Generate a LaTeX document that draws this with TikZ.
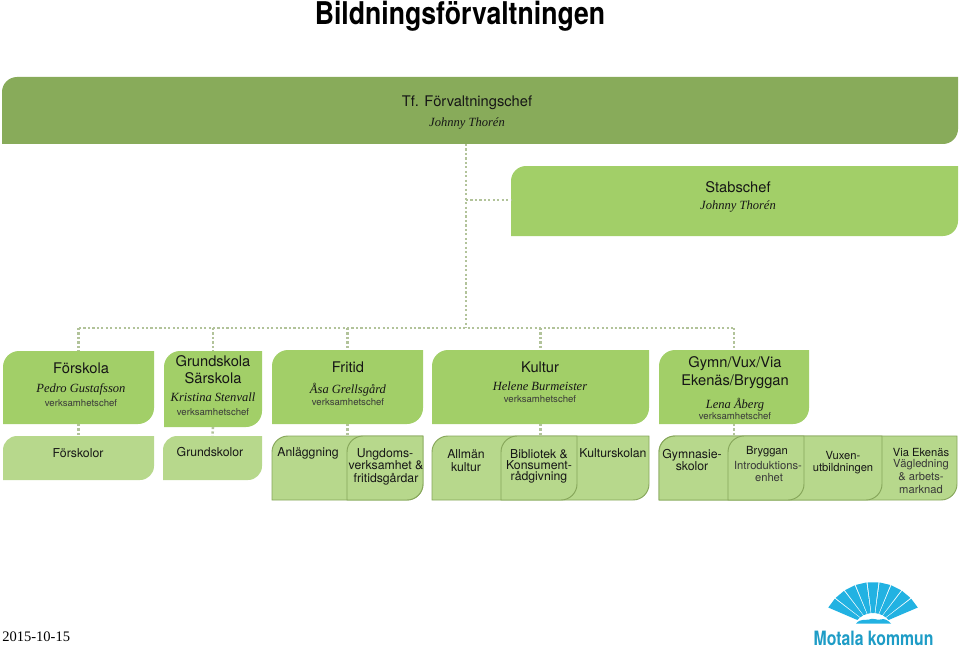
\documentclass[tikz,border=0pt]{standalone}
\usepackage{fontspec}
\setmainfont{TeX Gyre Heros}
\newfontfamily\namefont[Ligatures=TeX]{Liberation Serif}
\newfontfamily\titlefont[FakeStretch=0.85]{TeX Gyre Heros}
\newfontfamily\logofont[FakeStretch=0.8]{TeX Gyre Heros}
\definecolor{topgreen}{HTML}{88AB5A}
\definecolor{midgreen}{HTML}{A2CF68}
\definecolor{lowgreen}{HTML}{B7D88C}
\definecolor{edgegreen}{HTML}{86A65A}
\definecolor{dotgreen}{HTML}{B2C39A}
\definecolor{logoblue}{HTML}{22B2E2}
\definecolor{logotext}{HTML}{1E9CC6}
\definecolor{ink}{HTML}{161616}
\tikzset{
  x=0.75pt,y=-0.75pt,
  topbox/.style={fill=topgreen},
  midbox/.style={fill=midgreen},
  lowbox/.style={fill=lowgreen},
  rowbox/.style={fill=lowgreen,draw=edgegreen,line width=0.7pt},
  dots/.style={draw=dotgreen,line width=1.9pt,dash pattern=on 1.6pt off 1.75pt},
  big/.style={font=\fontsize{11}{11}\selectfont},
  who/.style={font=\namefont\itshape\fontsize{9.4}{9.4}\selectfont},
  role/.style={font=\fontsize{7.2}{7.2}\selectfont,text=ink!85},
  unit/.style={font=\fontsize{9.2}{9.2}\selectfont},
  small/.style={font=\fontsize{8.4}{8.4}\selectfont},
  lbl/.style={inner sep=0pt,text=ink,text height=0.72em,text depth=0.2em,anchor=center},
}
\newcounter{lblno}
\newcommand{\lbl}[4][big]{\stepcounter{lblno}\node[lbl,#1] (t\arabic{lblno}) at (#2,{#3+1.3}) {#4};}
% name, x1, y1, x2, y2, radius, style
\newcommand{\leaf}[7]{%
  \path[#7] (#2,#5) -- (#2,{#3+#6}) .. controls (#2,{#3+.45*#6}) and ({#2+.45*#6},#3) .. ({#2+#6},#3)
    -- (#4,#3) -- (#4,{#5-#6}) .. controls (#4,{#5-.45*#6}) and ({#4-.45*#6},#5) .. ({#4-#6},#5) -- cycle;
  \pgfmathsetmacro{\leafw}{(#4-#2)*.75}\pgfmathsetmacro{\leafh}{(#5-#3)*.75}%
  \node[inner sep=0pt,outer sep=0pt,minimum width=\leafw pt,minimum height=\leafh pt] (#1) at ({(#2+#4)/2},{(#3+#5)/2}) {};
}
\begin{document}
\begin{tikzpicture}
\useasboundingbox (0,0) rectangle (959,649);
% title
\node[inner sep=0pt,anchor=base,text=black,font=\titlefont\bfseries\fontsize{23.5}{23.5}\selectfont] (title) at (460,24.5) {Bildningsförvaltningen};
% boxes
\leaf{chief}{2}{77}{958}{144}{15}{topbox}
\leaf{stab}{511}{166}{958}{236}{15}{midbox}
\leaf{forskola}{3}{351}{154}{424}{16}{midbox}
\leaf{grund}{164}{351}{262}{427}{16}{midbox}
\leaf{fritid}{272}{350}{423}{424}{16}{midbox}
\leaf{kultur}{432}{350}{649}{424}{16}{midbox}
\leaf{gymn}{659}{350}{809}{424}{16}{midbox}
\leaf{forskolor}{3}{436}{154}{480}{14}{lowbox}
\leaf{grundskolor}{163}{436}{262}{480}{14}{lowbox}
\leaf{fritidrow}{272}{436}{423}{500}{16}{rowbox}
\leaf{ungdom}{347}{436}{423}{500}{16}{rowbox}
\leaf{kulturrow}{432}{436}{649}{500}{16}{rowbox}
\leaf{bibliotek}{501}{436}{577}{500}{16}{rowbox}
\leaf{gymnrow}{659}{436}{957}{500}{16}{rowbox}
\leaf{vuxen}{659}{436}{882}{500}{16}{rowbox}
\leaf{bryggan}{728}{436}{804}{500}{16}{rowbox}
% connectors
\coordinate (trunktop) at (466,144);
\coordinate (branch) at (466,200);
\coordinate (trunkend) at (466,328);
\coordinate (busl) at (79,328);
\coordinate (busr) at (735,328);
\draw[dots] (trunktop) -- (trunkend);
\draw[dots] (branch) -- (branch -| stab.west);
\draw[dots] (busl) -- (busr);
\foreach \n in {forskola,grund,fritid,kultur,gymn}{
  \draw[dots] (\n.north |- busl) -- (\n.north);
}
\draw[dots] (forskola.south) -- (forskolor.north);
\draw[dots] (grund.south) -- (grundskolor.north);
\draw[dots] (fritid.south) -- (fritidrow.north);
\draw[dots] (kultur.south) -- (kulturrow.north);
\draw[dots] (gymn.south) -- (gymn.south |- gymnrow.north);
% labels
\lbl{467}{102}{Tf. Förvaltningschef}
\lbl[who]{467}{122}{Johnny Thorén}
\lbl{738}{188}{Stabschef}
\lbl[who]{738}{205}{Johnny Thorén}
\lbl{81}{369}{Förskola}
\lbl[who]{81}{388}{Pedro Gustafsson}
\lbl[role]{81}{401.5}{verksamhetschef}
\lbl{213}{362}{Grundskola}
\lbl{213}{379}{Särskola}
\lbl[who]{213}{397}{Kristina Stenvall}
\lbl[role]{213}{410.5}{verksamhetschef}
\lbl{348}{368}{Fritid}
\lbl[who]{348}{389}{Åsa Grellsgård}
\lbl[role]{348}{400.5}{verksamhetschef}
\lbl{540}{368}{Kultur}
\lbl[who]{540}{386}{Helene Burmeister}
\lbl[role]{540}{397.5}{verksamhetschef}
\lbl{735}{363}{Gymn/Vux/Via}
\lbl{735}{381}{Ekenäs/Bryggan}
\lbl[who]{735}{404}{Lena Åberg}
\lbl[role]{735}{414.5}{verksamhetschef}
\lbl[unit]{78}{453}{Förskolor}
\lbl[unit]{210}{452}{Grundskolor}
\lbl[unit]{308}{452}{Anläggning}
\lbl[unit]{385}{452.5}{Ungdoms-}
\lbl[unit]{386}{465}{verksamhet \&}
\lbl[unit]{386}{478}{fritidsgårdar}
\lbl[unit]{466}{453.5}{Allmän}
\lbl[unit]{466}{467}{kultur}
\lbl[unit]{539}{453.5}{Bibliotek \&}
\lbl[unit]{539}{464.5}{Konsument-}
\lbl[unit]{539}{476}{rådgivning}
\lbl[unit]{613}{452.5}{Kulturskolan}
\lbl[unit]{692}{453.5}{Gymnasie-}
\lbl[unit]{692}{466}{skolor}
\lbl[small]{767}{450}{Bryggan}
\lbl[small,text=ink!85]{768}{465}{Introduktions-}
\lbl[small,text=ink!85]{769}{477}{enhet}
\lbl[small]{843}{454.5}{Vuxen-}
\lbl[small]{843}{467}{utbildningen}
\lbl[small]{921}{451.5}{Via Ekenäs}
\lbl[small,text=ink!85]{921}{463}{Vägledning}
\lbl[small,text=ink!85]{921}{476}{\& arbets-}
\lbl[small,text=ink!85]{921}{489}{marknad}
% date
\node[inner sep=0pt,anchor=west,text=black,font=\namefont\fontsize{10.9}{10.9}\selectfont] (date) at (2,637) {2015-10-15};
% logo: nine blades, outer angles 30-150, inner angles 41-139
\foreach \i in {0,...,8}{
  \pgfmathsetmacro{\oa}{30+\i*120/9+0.6}
  \pgfmathsetmacro{\ob}{30+(\i+1)*120/9-0.6}
  \pgfmathsetmacro{\ia}{41+\i*98/9+0.9}
  \pgfmathsetmacro{\ib}{41+(\i+1)*98/9-0.9}
  \fill[logoblue]
    ({873+21*cos(\ia)},{634-21*sin(\ia)}) --
    ({873+52*cos(\oa)},{634-52*sin(\oa)}) --
    ({873+52*cos(\ob)},{634-52*sin(\ob)}) --
    ({873+21*cos(\ib)},{634-21*sin(\ib)}) -- cycle;
}
\fill[logoblue] (856,623.5) .. controls (861,618) and (866,620.5) .. (869,619.5)
  .. controls (873,617.5) and (877,620.5) .. (880,619.5) .. controls (885,618) and (888,620.5) .. (891,623.5) -- cycle;
\node[inner sep=0pt,anchor=base,text=logotext,font=\logofont\bfseries\fontsize{14.8}{14.8}\selectfont] (logo) at (873.5,645.5) {Motala kommun};
\end{tikzpicture}
\end{document}
